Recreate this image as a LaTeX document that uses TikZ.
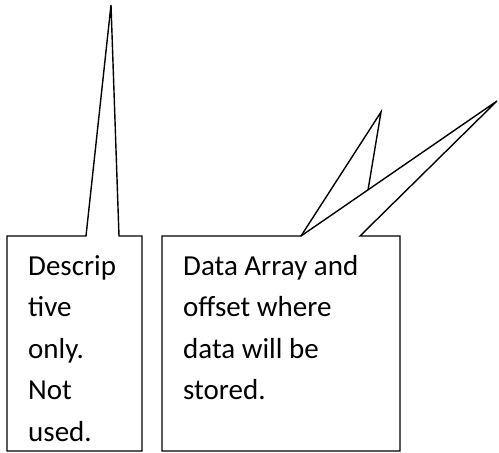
\documentclass[tikz,border=0pt]{standalone}
\usepackage{fontspec}
\setmainfont{Carlito}
\begin{document}
\begin{tikzpicture}[x=1pt,y=-1pt,
  callout/.style={draw=black,line width=1.4pt,line join=miter,fill=white},
  txt/.style={anchor=base west,inner sep=0pt,font=\fontsize{29}{41}\selectfont}]
\useasboundingbox (0,0) rectangle (499,453);
% left callout
\coordinate (la) at (86,236);
\coordinate (lb) at (119,236);
\coordinate (lt) at (111,5);
\draw[callout] (la) -- (7,236) -- (7,451) -- (142,451) -- (142,236) -- (lb) -- (lt) -- cycle;
% right callout
\coordinate (ra) at (301,236);
\coordinate (rb) at (360,236);
\coordinate (rt) at (497,101);
\coordinate (st) at (381,112);
\coordinate (sj) at (368,190);
\draw[callout] (ra) -- (162,236) -- (162,451) -- (400,451) -- (400,236) -- (rb) -- (rt) -- cycle;
\draw[callout,fill=none] (ra) -- (st) -- (sj);
% texts
\node[txt] (d1) at (28,275) {Descrip};
\node[txt] (d2) at (28,316.5) {tive};
\node[txt] (d3) at (28,358) {only.};
\node[txt] (d4) at (28,399.5) {Not};
\node[txt] (d5) at (28,441) {used.};
\node[txt] (a1) at (183,275) {Data Array and};
\node[txt] (a2) at (183,316.5) {offset where};
\node[txt] (a3) at (183,358) {data will be};
\node[txt] (a4) at (183,399.5) {stored.};
\end{tikzpicture}
\end{document}
